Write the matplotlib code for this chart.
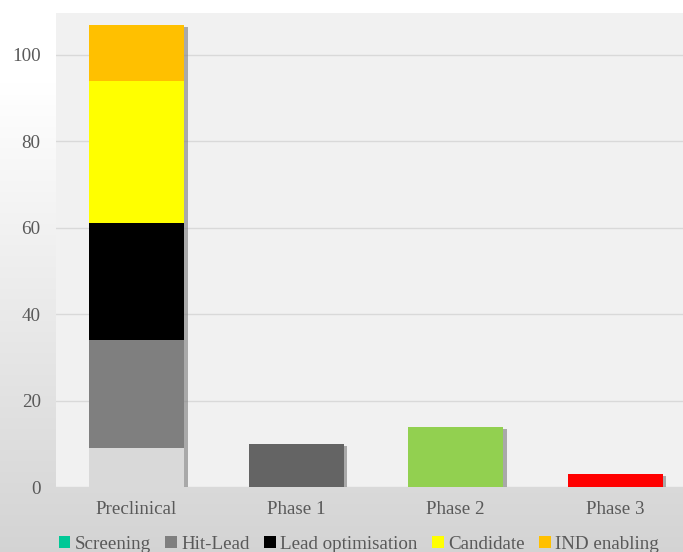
import numpy as np
import matplotlib
matplotlib.use("Agg")
import matplotlib.pyplot as plt
from matplotlib.patches import Patch
import matplotlib.patheffects as pe

categories = ["Preclinical", "Phase 1", "Phase 2", "Phase 3"]
stages = ["Screening", "Hit-Lead", "Lead optimisation", "Candidate", "IND enabling"]
preclinical_values = [9, 25, 27, 33, 13]
stage_bar_colors = ["#d9d9d9", "#7f7f7f", "#000000", "#ffff00", "#ffc000"]
stage_legend_colors = ["#00c896", "#7f7f7f", "#000000", "#ffff00", "#ffc000"]
phase_values = [10, 14, 3]
phase_colors = ["#646464", "#92d050", "#ff0000"]
yticks = [0, 20, 40, 60, 80, 100]

plt.rcParams['font.family'] = ['Liberation Serif', 'DejaVu Serif']

fig = plt.figure(figsize=(6.83, 5.52), dpi=100)

# figure background gradient
bg = fig.add_axes([0, 0, 1, 1], zorder=-10)
grad = np.linspace(1.0, 0.0, 256)
t = np.clip(grad / 0.85, 0, 1)
top = np.array([1.0, 1.0, 1.0]); bot = np.array([0.83, 0.83, 0.83])
img = (bot + (top - bot) * t[:, None]).reshape(256, 1, 3)
bg.imshow(img, aspect='auto', extent=[0, 1, 0, 1], origin='upper')
bg.set_axis_off()

ax = fig.add_axes([56/683, (552-487)/552, (683-56)/683, (487-13)/552])
ax.set_facecolor("#f1f1f1")
for s in ax.spines.values():
    s.set_visible(False)

x = np.arange(len(categories))
width = 0.596
shadow_only = [pe.SimplePatchShadow(offset=(2.5, -1.5), shadow_rgbFace='#7a7a7a', alpha=0.6)]

totals = [sum(preclinical_values)] + list(phase_values)
sb = ax.bar(x, totals, width, color='none', zorder=2)
for r in sb:
    r.set_path_effects(shadow_only)

bottom = 0
for val, col in zip(preclinical_values, stage_bar_colors):
    ax.bar(x[0], val, width, bottom=bottom, color=col, zorder=3)
    bottom += val

for xi, val, col in zip(x[1:], phase_values, phase_colors):
    ax.bar(xi, val, width, color=col, zorder=3)

ax.set_xlim(-0.505, 3.426)
ax.set_ylim(0, 109.7)
ax.set_yticks(yticks)
ax.set_xticks(x)
ax.set_xticklabels(categories)
ax.yaxis.grid(True, color="#d9d9d9", linewidth=1, zorder=0)
ax.set_axisbelow(True)
ax.tick_params(axis='both', length=0, labelsize=13.7, labelcolor="#595959")
ax.tick_params(axis='y', pad=11)
ax.tick_params(axis='x', pad=10)

handles = [Patch(facecolor=c, edgecolor='none', label=l) for c, l in zip(stage_legend_colors, stages)]
fig.legend(handles=handles, loc='lower center', bbox_to_anchor=(0.5256, -0.033), ncol=5,
           frameon=False, fontsize=13.7, handlelength=0.6, handleheight=0.6,
           handletextpad=0.25, columnspacing=0.75, labelcolor="#595959")

fig.savefig("out.png", dpi=100)
